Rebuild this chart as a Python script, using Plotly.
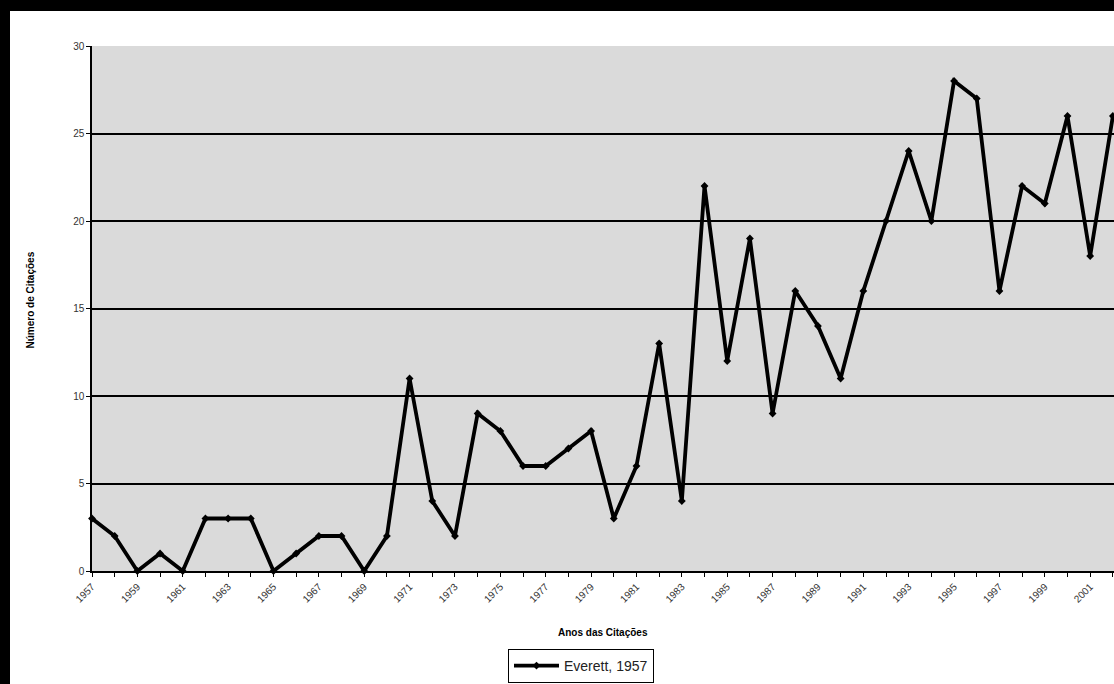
import plotly.graph_objects as go

years = list(range(1957, 2003))
citations = [3, 2, 0, 1, 0, 3, 3, 3, 0, 1, 2, 2, 0, 2, 11, 4, 2, 9, 8, 6,
             6, 7, 8, 3, 6, 13, 4, 22, 12, 19, 9, 16, 14, 11, 16, 20, 24, 20,
             28, 27, 16, 22, 21, 26, 18, 26]
tick_years = list(range(1957, 2003))
tick_labels = [str(y) if (y - 1957) % 2 == 0 else "" for y in tick_years]
series_name = "Everett, 1957"

PL, PR, PT, PB = 92, 1114, 46, 571
PW, PH = PR - PL, PB - PT


def px(x):
    return (x - PL) / PW


def py(y):
    return (PB - y) / PH


fig = go.Figure()
fig.add_trace(go.Scatter(
    x=years, y=citations, mode="lines+markers", name=series_name,
    line=dict(color="black", width=3.8),
    marker=dict(symbol="diamond", size=6, color="black"),
    cliponaxis=False,
))

font = "Liberation Sans, Arial, sans-serif"
fig.update_layout(
    width=1114, height=684,
    margin=dict(l=PL, r=1114 - PR, t=PT, b=684 - PB, autoexpand=False),
    paper_bgcolor="white",
    plot_bgcolor="#dadada",
    font=dict(family=font, color="black"),
    showlegend=True,
    legend=dict(
        x=px(508), y=py(649), xanchor="left", yanchor="top",
        bordercolor="black", borderwidth=1, bgcolor="white",
        font=dict(size=14, family=font, color="#222"),
        itemwidth=45, tracegroupgap=0,
    ),
    xaxis=dict(
        range=[1957, 2002.05], tickmode="array", tickvals=tick_years, ticktext=tick_labels,
        tickangle=-45, ticks="outside", ticklen=4, tickcolor="black",
        tickfont=dict(size=10, color="#333"),
        showgrid=False, showline=True, linecolor="black", linewidth=2,
        zeroline=False,
    ),
    yaxis=dict(
        range=[0, 30], tickvals=[0, 5, 10, 15, 20, 25, 30], ticks="outside", ticklen=4,
        tickcolor="black", tickfont=dict(size=10, color="#333"),
        showgrid=True, gridcolor="black", gridwidth=1.5,
        showline=True, linecolor="black", linewidth=1.5, zeroline=False,
    ),
    annotations=[
        dict(text="<b>Anos das Citações</b>", x=px(603), y=py(640), xref="paper", yref="paper",
             showarrow=False, font=dict(size=10, family=font)),
        dict(text="<b>Número de Citações</b>", x=px(22), y=py(300), xref="paper", yref="paper",
             showarrow=False, textangle=-90, font=dict(size=10, family=font)),
    ],
)

# black scan borders (top and left)
fig.add_shape(type="rect", xref="paper", yref="paper",
              x0=px(0), x1=px(1114), y0=py(11), y1=py(0),
              fillcolor="black", line_width=0, layer="above")
fig.add_shape(type="rect", xref="paper", yref="paper",
              x0=px(0), x1=px(10), y0=py(684), y1=py(0),
              fillcolor="black", line_width=0, layer="above")

fig.write_html("out.html")
